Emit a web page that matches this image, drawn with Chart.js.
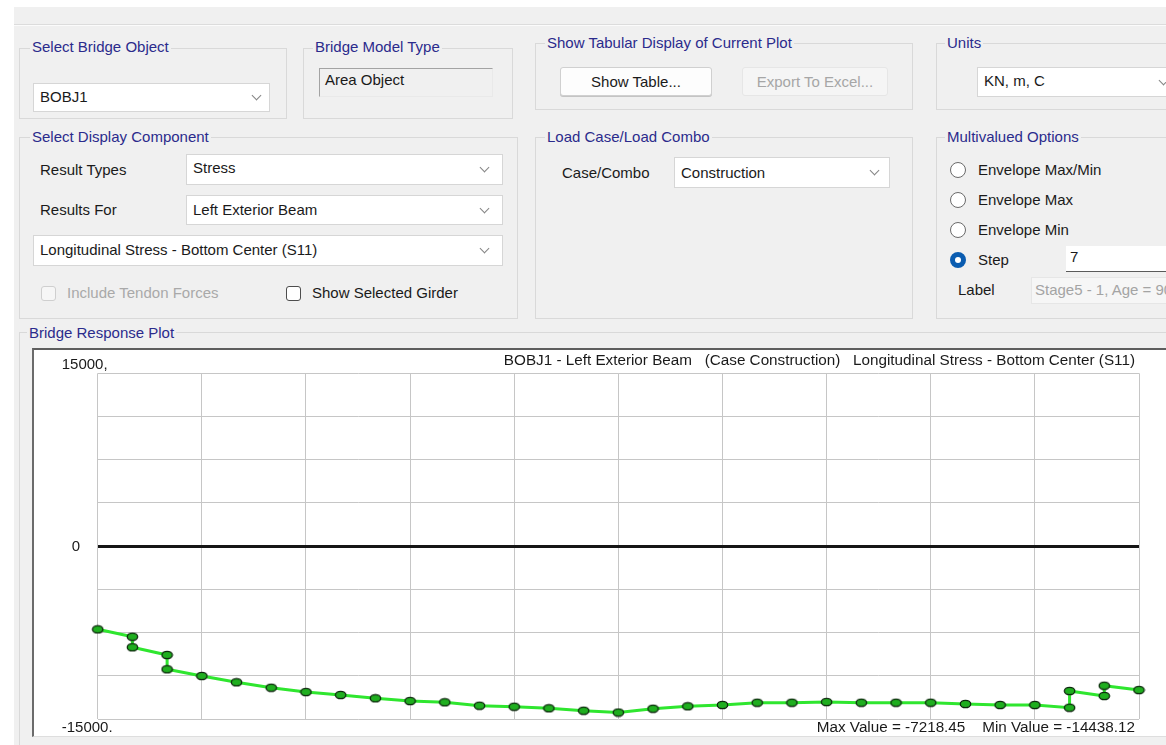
<!DOCTYPE html>
<html>
<head>
<meta charset="utf-8">
<title>Bridge Response Plot</title>
<script src="https://cdn.jsdelivr.net/npm/chart.js@4.4.1/dist/chart.umd.min.js"></script>
<style>
  html, body { margin: 0; padding: 0; background: #fff; }
  body { width: 1166px; height: 745px; overflow: hidden; position: relative;
         font-family: "Liberation Sans", Arial, sans-serif; font-size: 15px; color: #1a1a1a; }
  #panel { position: absolute; left: 14px; top: 7px; right: 0; bottom: 0; background: #f0f0f0; }
  .sep { position: absolute; left: 14px; right: 0; top: 24px; height: 1px; background: #dcdcdc; border-bottom: 1px solid #fbfbfb; }
  .grp { position: absolute; border: 1px solid #d9d9d9; box-sizing: border-box; }
  .gt { position: absolute; color: #2b2b8c; background: #f0f0f0; padding: 0 2px; line-height: 18px; white-space: nowrap; }
  .lbl { position: absolute; white-space: nowrap; line-height: 18px; }
  .dd { position: absolute; background: #fff; border: 1px solid #d6d6d6; box-sizing: border-box; overflow: hidden; white-space: nowrap; }
  .dd .t, .fld .t { position: absolute; left: 6px; line-height: 18px; }
  .chev { position: absolute; width: 6px; height: 6px; border-right: 1px solid #858585; border-bottom: 1px solid #858585; transform: rotate(45deg); }
  .fld { position: absolute; box-sizing: border-box; overflow: hidden; white-space: nowrap; }
  .btn { position: absolute; box-sizing: border-box; border-radius: 3px; text-align: center; }
  .cb { position: absolute; width: 15px; height: 15px; box-sizing: border-box; border-radius: 3px; }
  .rd { position: absolute; width: 16px; height: 16px; box-sizing: border-box; border-radius: 50%; border: 1px solid #6a6a6a; background: #fff; }
  .rd.on { border: none; background: #0a5cb0; }
  .rd.on::after { content: ""; position: absolute; left: 5px; top: 5px; width: 6px; height: 6px; border-radius: 50%; background: #fff; }
  #frame { position: absolute; left: 32px; top: 348px; width: 1140px; height: 389px; box-sizing: border-box;
           background: #fff; border-left: 2px solid #6b6b6b; border-top: 2px solid #5e5e5e; border-bottom: 1px solid #dedede; }
  #plot { position: absolute; left: 34px; top: 350px; }
</style>
</head>
<body>
<div id="panel"></div>
<div class="sep"></div>

<!-- Select Bridge Object -->
<div class="grp" style="left:19px;top:48px;width:268px;height:71px"></div>
<div class="gt" style="left:30px;top:38px">Select Bridge Object</div>
<div class="dd" style="left:33px;top:83px;width:237px;height:29px"><span class="t" style="top:4px">BOBJ1</span><i class="chev" style="left:219px;top:8px"></i></div>

<!-- Bridge Model Type -->
<div class="grp" style="left:303px;top:48px;width:210px;height:71px"></div>
<div class="gt" style="left:313px;top:38px">Bridge Model Type</div>
<div class="fld" style="left:319px;top:68px;width:174px;height:29px;background:#f0f0f0;border:1px solid;border-color:#a3a3a3 #e9e9e9 #e9e9e9 #a3a3a3"><span class="t" style="left:5px;top:2px">Area Object</span></div>

<!-- Show Tabular Display of Current Plot -->
<div class="grp" style="left:535px;top:43px;width:378px;height:67px"></div>
<div class="gt" style="left:545px;top:34px">Show Tabular Display of Current Plot</div>
<div class="btn" style="left:560px;top:67px;width:152px;height:29px;background:#fdfdfd;border:1px solid #d0d0d0;box-shadow:0 1px 0 #c4c4c4;line-height:27px">Show Table...</div>
<div class="btn" style="left:742px;top:67px;width:146px;height:29px;background:#f5f5f5;border:1px solid #e6e6e6;color:#a6a6a6;line-height:27px">Export To Excel...</div>

<!-- Units -->
<div class="grp" style="left:936px;top:43px;width:260px;height:67px"></div>
<div class="gt" style="left:945px;top:34px">Units</div>
<div class="dd" style="left:977px;top:67px;width:220px;height:30px"><span class="t" style="top:4px">KN, m, C</span><i class="chev" style="left:182px;top:9px"></i></div>

<!-- Select Display Component -->
<div class="grp" style="left:19px;top:137px;width:499px;height:182px"></div>
<div class="gt" style="left:30px;top:128px">Select Display Component</div>
<div class="lbl" style="left:40px;top:161px">Result Types</div>
<div class="dd" style="left:186px;top:154px;width:317px;height:31px"><span class="t" style="top:4px">Stress</span><i class="chev" style="left:294px;top:9px"></i></div>
<div class="lbl" style="left:40px;top:201px">Results For</div>
<div class="dd" style="left:186px;top:195px;width:317px;height:30px"><span class="t" style="top:5px">Left Exterior Beam</span><i class="chev" style="left:294px;top:9px"></i></div>
<div class="dd" style="left:33px;top:235px;width:470px;height:31px"><span class="t" style="top:5px">Longitudinal Stress - Bottom Center (S11)</span><i class="chev" style="left:447px;top:9px"></i></div>
<div class="cb" style="left:41px;top:286px;border:1px solid #cfcfcf;background:#f6f6f6"></div>
<div class="lbl" style="left:67px;top:284px;color:#a9a9a9">Include Tendon Forces</div>
<div class="cb" style="left:286px;top:286px;border:1px solid #4d4d4d;background:#fff"></div>
<div class="lbl" style="left:312px;top:284px">Show Selected Girder</div>

<!-- Load Case/Load Combo -->
<div class="grp" style="left:535px;top:137px;width:378px;height:182px"></div>
<div class="gt" style="left:545px;top:128px">Load Case/Load Combo</div>
<div class="lbl" style="left:562px;top:164px">Case/Combo</div>
<div class="dd" style="left:674px;top:157px;width:216px;height:31px"><span class="t" style="top:6px">Construction</span><i class="chev" style="left:196px;top:9px"></i></div>

<!-- Multivalued Options -->
<div class="grp" style="left:936px;top:137px;width:260px;height:182px"></div>
<div class="gt" style="left:945px;top:128px">Multivalued Options</div>
<div class="rd" style="left:950px;top:162px"></div><div class="lbl" style="left:978px;top:161px">Envelope Max/Min</div>
<div class="rd" style="left:950px;top:192px"></div><div class="lbl" style="left:978px;top:191px">Envelope Max</div>
<div class="rd" style="left:950px;top:222px"></div><div class="lbl" style="left:978px;top:221px">Envelope Min</div>
<div class="rd on" style="left:950px;top:252px"></div><div class="lbl" style="left:978px;top:251px">Step</div>
<div class="fld" style="left:1066px;top:246px;width:110px;height:26px;background:#fff;border-bottom:1px solid #5a5a5a"><span class="t" style="left:4px;top:2px">7</span></div>
<div class="lbl" style="left:958px;top:281px">Label</div>
<div class="fld" style="left:1031px;top:277px;width:150px;height:27px;background:#f6f6f6;border:1px solid #e6e6e6"><span class="t" style="left:3px;top:3px;color:#a4a4a4">Stage5 - 1, Age = 90</span></div>

<!-- Bridge Response Plot -->
<div class="grp" style="left:19px;top:332px;width:1170px;height:430px"></div>
<div class="gt" style="left:27px;top:324px">Bridge Response Plot</div>
<div id="frame"></div>
<canvas id="plot" width="1132" height="386"></canvas>

<script>
// Bridge object / result selection shown in the plot header
const bridgeObject = 'BOBJ1';
const resultsFor = 'Left Exterior Beam';
const loadCase = 'Construction';
const component = 'Longitudinal Stress - Bottom Center (S11)';

// Output stations along the girder (repeated stations are section changes)
const stations = [0, 1, 1, 2, 2, 3, 4, 5, 6, 7, 8, 9, 10, 11, 12, 13, 14, 15,
                  16, 17, 18, 19, 20, 21, 22, 23, 24, 25, 26, 27, 28, 28, 29, 29, 30];
// S11 bottom-centre stress at each station (KN/m2)
const stressS11 = [-7218.45, -7858, -8778, -9446, -10687, -11268, -11815, -12284, -12657, -12917,
                   -13204, -13438, -13551, -13846, -13932, -14071, -14280, -14438.12,
                   -14106, -13898, -13785, -13585, -13585, -13525, -13585, -13585, -13585,
                   -13698, -13785, -13785, -14019, -12570, -13004, -12110, -12484];

// Vertical axis range and the labelled ticks
const yRange = [-15000, 15000];
const yStep = 3750;
const yTickValues = [15000, 0, -15000];
const yTickLabels = ['15000,', '0', '-15000.'];
const xRange = [0, 30];
const xStep = 3;

const FONT = '15px "Liberation Sans", Arial, sans-serif';
const HEAD_FONT = '15.25px "Liberation Sans", Arial, sans-serif';

// elliptical green station marker
function makeMarker() {
  const c = document.createElement('canvas');
  c.width = 13; c.height = 10;
  const g = c.getContext('2d');
  g.beginPath();
  g.ellipse(6.5, 5, 5.2, 3.7, 0, 0, Math.PI * 2);
  g.fillStyle = '#1fae1f';
  g.fill();
  g.lineWidth = 1.3;
  g.strokeStyle = '#0d2a0d';
  g.stroke();
  return c;
}

const maxVal = Math.max(...stressS11);
const minVal = Math.min(...stressS11);

// header, footer and the three y labels
const plotText = {
  id: 'plotText',
  afterDraw(chart) {
    const { ctx, chartArea, scales } = chart;
    const y = scales.y;
    ctx.save();
    ctx.font = FONT;
    ctx.fillStyle = '#1a1a1a';
    ctx.textBaseline = 'middle';
    ctx.textAlign = 'left';
    const dx = [-36, -26, -36];
    const dy = [-8.5, 0.5, 9];
    yTickValues.forEach((v, i) => {
      ctx.fillText(yTickLabels[i], chartArea.left + dx[i], y.getPixelForValue(v) + dy[i]);
    });
    ctx.font = HEAD_FONT;
    ctx.textAlign = 'right';
    const title = bridgeObject + ' - ' + resultsFor + '   (Case ' + loadCase + ')   ' + component;
    ctx.fillText(title, chartArea.right - 4, chartArea.top - 13);
    const foot = 'Max Value = ' + maxVal.toFixed(2) + '    Min Value = ' + minVal.toFixed(2);
    ctx.fillText(foot, chartArea.right - 4, chartArea.bottom + 9);
    ctx.restore();
  }
};

new Chart(document.getElementById('plot'), {
  type: 'scatter',
  data: {
    datasets: [{
      data: stations.map((s, i) => ({ x: s, y: stressS11[i] })),
      showLine: true,
      borderColor: '#2fe62f',
      borderWidth: 3,
      tension: 0,
      pointStyle: makeMarker(),
      pointRadius: 5,
      clip: false
    }]
  },
  options: {
    responsive: false,
    animation: false,
    devicePixelRatio: 1,
    events: [],
    layout: { padding: { left: 63.7, top: 23.3, right: 27, bottom: 17 } },
    plugins: { legend: { display: false }, tooltip: { enabled: false }, title: { display: false } },
    scales: {
      x: {
        type: 'linear', min: xRange[0], max: xRange[1], z: -1,
        ticks: { stepSize: xStep, display: false },
        grid: { color: '#c6c6c6', lineWidth: 1, drawTicks: false },
        border: { display: false }
      },
      y: {
        type: 'linear', min: yRange[0], max: yRange[1],
        ticks: { stepSize: yStep, display: false },
        grid: {
          color: ctx => (ctx.tick && ctx.tick.value === 0 ? '#161616' : '#c6c6c6'),
          lineWidth: ctx => (ctx.tick && ctx.tick.value === 0 ? 3 : 1),
          drawTicks: false
        },
        border: { display: false }
      }
    }
  },
  plugins: [plotText]
});
</script>
</body>
</html>
